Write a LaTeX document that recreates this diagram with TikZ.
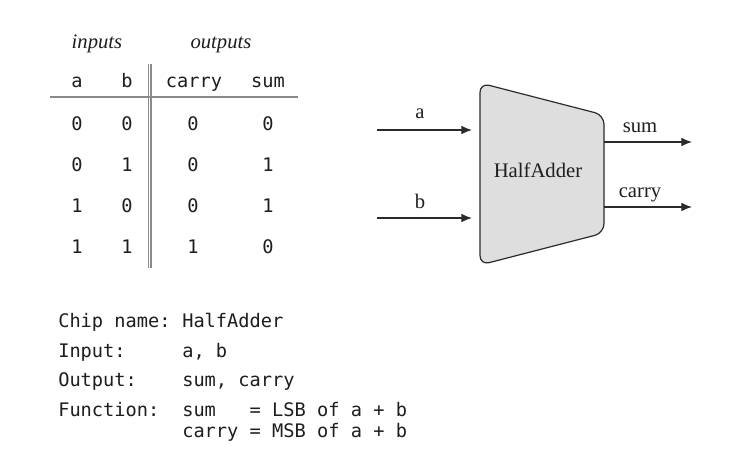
\documentclass[tikz,border=0pt]{standalone}
\usepackage{fontspec}
\setmainfont{Liberation Serif}
\setmonofont{DejaVu Sans Mono}
\usetikzlibrary{arrows.meta,positioning,calc}
\definecolor{rulegray}{HTML}{8A8A8A}
\definecolor{wiredark}{HTML}{2B2B2B}
\definecolor{chipfill}{HTML}{DEDEDF}
\definecolor{inkdark}{HTML}{1E1E1E}
\tikzset{
  colhead/.style={font=\itshape\fontsize{15.5}{18}\selectfont, text=inkdark, anchor=base, inner sep=0pt},
  tcell/.style={font=\ttfamily\fontsize{14}{16}\selectfont, text=inkdark, anchor=base, inner sep=0pt},
  tabrule/.style={draw=rulegray, line width=1.1pt},
  % the chip and its pins
  chip/.style={draw=wiredark, fill=chipfill, line width=0.9pt, rounded corners=7pt},
  chipname/.style={font=\fontsize{15.5}{18}\selectfont, text=inkdark, anchor=base, inner sep=0pt},
  pin/.style={-{Latex[length=8pt,width=6.5pt]}, line width=0.9pt, color=wiredark},
  pinlabel/.style={font=\fontsize{15.5}{18}\selectfont, text=inkdark, anchor=base, inner sep=0pt},
  % the spec text below
  spec/.style={font=\ttfamily\fontsize{14}{16}\selectfont, text=inkdark, anchor=base west, inner sep=0pt},
}
\begin{document}
\begin{tikzpicture}[x=0.75pt,y=-0.75pt]
  \useasboundingbox[fill=white] (0,0) rectangle (736,457);

  % truth table
  \node[colhead] (inputs) at (97,48) {inputs};
  \node[colhead] (outputs) at (221,48) {outputs};
  \node[tcell] (ha) at (77,87) {a};
  \node[tcell] (hb) at (127,87) {b};
  \node[tcell] (hcarry) at (194,87) {carry};
  \node[tcell] (hsum) at (268,87) {sum};
  \foreach \va/\vb/\vc/\vs [count=\r] in {0/0/0/0, 0/1/0/1, 1/0/0/1, 1/1/1/0} {
    \pgfmathsetmacro{\yrow}{130+41*(\r-1)}
    \node[tcell] (a\r) at (77,\yrow) {\va};
    \node[tcell] (b\r) at (127,\yrow) {\vb};
    \node[tcell] (c\r) at (193,\yrow) {\vc};
    \node[tcell] (s\r) at (268,\yrow) {\vs};
  }
  \coordinate (ruleL) at (50,97);
  \coordinate (ruleR) at (298,97);
  \draw[tabrule] (ruleL) -- (ruleR);
  \coordinate (sepT) at (148.3,64);
  \coordinate (sepB) at (148.3,268);
  \draw[tabrule, line width=0.9pt] (sepT) -- (sepB);
  \draw[tabrule, line width=0.9pt] ($(sepT)+(2.6,0)$) -- ($(sepB)+(2.6,0)$);

  % the chip
  \coordinate (chipTL) at (480,83);
  \coordinate (chipTR) at (604,115);
  \coordinate (chipBR) at (604,233);
  \coordinate (chipBL) at (480,265);
  \draw[chip] (chipTL) -- (chipTR) -- (chipBR) -- (chipBL) -- cycle;
  \node[chipname] (name) at (538,177) {HalfAdder};

  \coordinate (ain) at (377,130);
  \coordinate (aend) at (480,130);
  \coordinate (bin) at (377,218);
  \coordinate (bend) at (480,218);
  \coordinate (sumst) at (604,142);
  \coordinate (sumout) at (692,142);
  \coordinate (carst) at (604,207);
  \coordinate (carout) at (692,207);
  \draw[pin, shorten >=6pt] (ain) -- (aend);
  \draw[pin, shorten >=6pt] (bin) -- (bend);
  \draw[pin] (sumst) -- (sumout);
  \draw[pin] (carst) -- (carout);
  \node[pinlabel] (la) at (420,118) {a};
  \node[pinlabel] (lb) at (420,208) {b};
  \node[pinlabel] (lsum) at (640,132) {sum};
  \node[pinlabel] (lcarry) at (640,197) {carry};

  % spec
  \node[spec] (k1) at (58,327) {Chip name:};
  \node[spec] (v1) at (182,327) {HalfAdder};
  \node[spec] (k2) at (58,357) {Input:};
  \node[spec] (v2) at (182,357) {a, b};
  \node[spec] (k3) at (58,386) {Output:};
  \node[spec] (v3) at (182,386) {sum, carry};
  \node[spec] (k4) at (58,416) {Function:};
  \node[spec] (v4) at (182,416) {sum\phantom{ry} = LSB of a + b};
  \node[spec] (v5) at (182,437) {carry = MSB of a + b};
\end{tikzpicture}
\end{document}
